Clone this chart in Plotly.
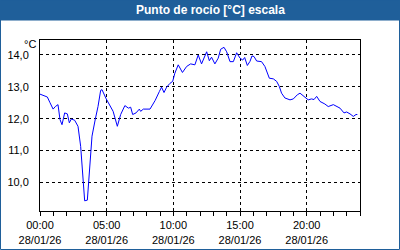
import plotly.graph_objects as go

title_text = "Punto de rocío [°C] escala"
unit_label = "°C"
day = "2026-01-28"

times = ["00:00", "00:18", "00:33", "00:45", "00:59", "01:09", "01:21", "01:30", "01:39", "01:51",
         "02:03", "02:12", "02:21", "02:36", "02:51", "03:03", "03:13", "03:21", "03:33", "03:43",
         "03:54", "04:09", "04:21", "04:33", "04:39", "04:58", "05:12", "05:29", "05:48", "06:03",
         "06:22", "06:38", "06:48", "06:57", "07:12", "07:27", "07:33", "07:45", "08:15", "08:38",
         "08:57", "09:07", "09:18", "09:30", "09:45", "09:57", "10:07", "10:22", "10:41", "11:00",
         "11:18", "11:37", "11:52", "12:07", "12:30", "12:42", "12:52", "13:07", "13:22", "13:33",
         "13:48", "14:00", "14:15", "14:30", "14:45", "15:00", "15:12", "15:21", "15:33", "15:45",
         "15:54", "16:03", "16:15", "16:37", "16:52", "17:12", "17:30", "17:45", "17:57", "18:07",
         "18:22", "18:45", "19:00", "19:18", "19:30", "19:42", "19:52", "20:07", "20:22", "20:33",
         "20:45", "21:00", "21:22", "21:37", "22:00", "22:15", "22:30", "22:48", "23:00", "23:15",
         "23:30", "23:42", "23:48"]
dew_point = [12.77, 12.72, 12.68, 12.50, 12.30, 12.38, 12.44, 11.97, 11.81, 12.18,
             12.15, 11.87, 11.99, 11.95, 11.76, 11.13, 10.09, 9.42, 9.44, 10.30,
             11.45, 11.99, 12.38, 12.89, 12.91, 12.62, 12.45, 12.23, 11.76, 12.13,
             12.41, 12.33, 12.36, 12.13, 12.18, 12.30, 12.23, 12.30, 12.30, 12.57,
             12.85, 12.99, 12.82, 12.99, 13.11, 13.17, 13.43, 13.69, 13.45, 13.64,
             13.72, 13.69, 14.00, 13.72, 14.10, 13.82, 13.93, 13.72, 13.90, 14.18,
             14.24, 14.10, 13.79, 13.79, 14.07, 13.90, 13.84, 13.92, 13.67, 13.80,
             13.97, 13.95, 13.81, 13.79, 13.64, 13.27, 13.25, 13.17, 13.01, 12.80,
             12.65, 12.59, 12.62, 12.75, 12.80, 12.73, 12.70, 12.59, 12.62, 12.60,
             12.70, 12.54, 12.46, 12.38, 12.44, 12.38, 12.33, 12.18, 12.21, 12.15,
             12.07, 12.13, 12.13]

x_tick_times = ["00:00", "05:00", "10:00", "15:00", "20:00"]
x_tick_labels = [t + "<br>28/01/26" for t in x_tick_times]
y_ticks = [10, 11, 12, 13, 14]

BLUE = "#1f5f9a"
FONT = "Liberation Sans"

x = [f"{day} {t}" for t in times]

fig = go.Figure()
fig.add_trace(go.Scatter(x=x, y=dew_point, mode="lines",
                         line=dict(color="#0000ff", width=1), showlegend=False,
                         hoverinfo="skip"))

W, H = 400, 250
L, R, T, B = 40, 40, 40, 39
pw, ph = W - L - R, H - T - B

def px2x(p):
    return (p - L) / pw

def py2y(p):
    return 1 - (p - T) / ph

# title bar
fig.add_shape(type="rect", xref="paper", yref="paper",
              x0=px2x(0), x1=px2x(400), y0=py2y(20.5), y1=py2y(0),
              fillcolor=BLUE, line=dict(width=0), layer="below")
# outer border
fig.add_shape(type="rect", xref="paper", yref="paper",
              x0=px2x(0.5), x1=px2x(399.5), y0=py2y(249.5), y1=py2y(0),
              fillcolor="rgba(0,0,0,0)", line=dict(color=BLUE, width=1))

fig.add_annotation(text="<b>" + title_text + "</b>", xref="paper", yref="paper",
                   x=px2x(210), y=py2y(10.5), showarrow=False,
                   font=dict(family=FONT, size=12, color="white"),
                   xanchor="center", yanchor="middle")
fig.add_annotation(text=unit_label, xref="paper", yref="paper",
                   x=px2x(37), y=py2y(51), showarrow=False,
                   font=dict(family=FONT, size=11, color="black"),
                   xanchor="right", yanchor="bottom", borderpad=0)

fig.update_layout(
    width=W, height=H,
    margin=dict(l=L, r=R, t=T, b=B, autoexpand=False),
    paper_bgcolor="white", plot_bgcolor="white",
    separators=",.",
    font=dict(family=FONT, size=11, color="black"),
    xaxis=dict(
        type="date",
        range=[f"{day} 00:00", "2026-01-29 00:00"],
        tickvals=[f"{day} {t}" for t in x_tick_times],
        ticktext=x_tick_labels,
        ticks="outside", ticklen=4, tickcolor="black", tickwidth=1,
        minor=dict(ticks="outside", ticklen=4, tickcolor="black", dtick=3600000,
                   showgrid=False),
        showgrid=True, gridcolor="black", gridwidth=1, griddash="3px,3px",
        showline=True, linecolor="black", linewidth=1, mirror=True,
        zeroline=False, fixedrange=True, automargin=False,
    ),
    yaxis=dict(
        range=[9.10, 14.47],
        tickvals=y_ticks,
        tickformat=".1f",
        ticks="", ticklabelstandoff=8,
        showgrid=True, gridcolor="black", gridwidth=1, griddash="3px,3px",
        showline=True, linecolor="black", linewidth=1, mirror=True,
        zeroline=False, fixedrange=True, automargin=False,
    ),
)

fig.write_html("out.html")
